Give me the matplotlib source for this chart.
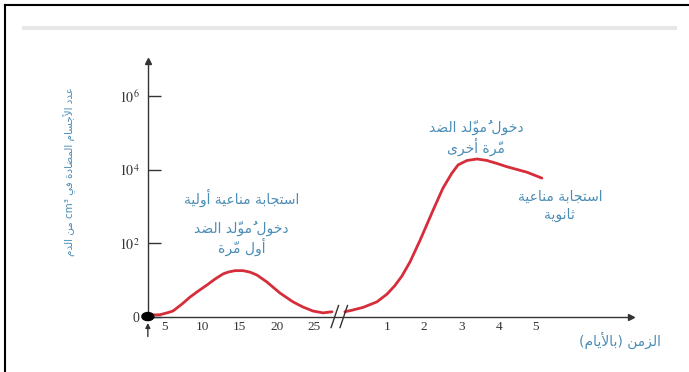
import unicodedata

import matplotlib
matplotlib.use("Agg")
import matplotlib.pyplot as plt
from matplotlib.lines import Line2D
from matplotlib.patches import Ellipse

plt.rcParams["font.family"] = ["DejaVu Sans"]
plt.rcParams["mathtext.fontset"] = "stix"

# primary response: days after first exposure, log10(antibodies per cm3)
primary_days = [2.7, 3.0, 4.33, 5.27, 6.07, 7.28, 8.36, 9.43, 10.64, 11.71, 12.79, 13.46,
                14.40, 15.47, 16.41, 17.35, 18.69, 20.44, 22.18, 23.52, 24.87, 26.21, 27.42]
primary_level = [0.0, 0.04, 0.05, 0.10, 0.15, 0.34, 0.53, 0.69, 0.86, 1.02, 1.16, 1.21,
                 1.25, 1.25, 1.21, 1.13, 0.94, 0.64, 0.40, 0.26, 0.15, 0.10, 0.13]

# secondary response: days after second exposure
secondary_days = [-0.13, 0.09, 0.36, 0.73, 1.00, 1.21, 1.40, 1.62, 1.89, 2.24, 2.50, 2.74,
                  2.91, 3.15, 3.42, 3.68, 3.95, 4.22, 4.76, 5.16]
secondary_level = [0.13, 0.18, 0.25, 0.40, 0.61, 0.84, 1.10, 1.49, 2.08, 2.90, 3.49, 3.90,
                   4.13, 4.25, 4.29, 4.25, 4.17, 4.08, 3.93, 3.77]

first_ticks = [5, 10, 15, 20, 25]
second_ticks = [1, 2, 3, 4, 5]
y_ticks = [0, 2, 4, 6]
y_tick_labels = ["0", "$10^2$", "$10^4$", "$10^6$"]

DAYS_PER_UNIT = 5      # first segment: 5 days per unit
SECOND_OFFSET = 5.96   # second segment starts here, 1 day per unit
AXIS_X = 0.54
BREAK_X = [5.56, 5.80]

TXT = "#4a8db5"
RED = "#d62d3a"
AX = "#333333"

# ---- minimal arabic shaping (matplotlib has no text shaping) ----
DUAL = {"ب": 0xFE8F, "ت": 0xFE95, "ث": 0xFE99, "ج": 0xFE9D, "ح": 0xFEA1, "خ": 0xFEA5,
        "س": 0xFEB1, "ش": 0xFEB5, "ص": 0xFEB9, "ض": 0xFEBD, "ط": 0xFEC1, "ظ": 0xFEC5,
        "ع": 0xFEC9, "غ": 0xFECD, "ف": 0xFED1, "ق": 0xFED5, "ك": 0xFED9, "ل": 0xFEDD,
        "م": 0xFEE1, "ن": 0xFEE5, "ه": 0xFEE9, "ي": 0xFEF1, "ئ": 0xFE89}
RIGHT = {"آ": 0xFE81, "أ": 0xFE83, "ؤ": 0xFE85, "إ": 0xFE87, "ا": 0xFE8D, "ة": 0xFE93,
         "د": 0xFEA9, "ذ": 0xFEAB, "ر": 0xFEAD, "ز": 0xFEAF, "و": 0xFEED, "ى": 0xFEEF}
LAM_ALEF = {"آ": 0xFEF5, "أ": 0xFEF7, "إ": 0xFEF9, "ا": 0xFEFB}


def ar(text):
    clusters = []
    for ch in text:
        if unicodedata.category(ch) == "Mn" and clusters:
            clusters[-1][1].append(ch)
        else:
            clusters.append([ch, []])
    merged = []
    i = 0
    while i < len(clusters):
        b, m = clusters[i]
        if b == "ل" and i + 1 < len(clusters) and clusters[i + 1][0] in LAM_ALEF:
            merged.append(["LA" + clusters[i + 1][0], m + clusters[i + 1][1]])
            i += 2
        else:
            merged.append([b, m])
            i += 1

    def joining(b):
        return b in DUAL or b in RIGHT or b.startswith("LA")

    out = []
    for i, (b, m) in enumerate(merged):
        prev = merged[i - 1][0] if i > 0 else ""
        nxt = merged[i + 1][0] if i + 1 < len(merged) else ""
        p = joining(b) and prev in DUAL
        n = b in DUAL and joining(nxt)
        if b.startswith("LA"):
            g = chr(LAM_ALEF[b[2]] + (1 if p else 0))
        elif b in DUAL:
            g = chr(DUAL[b] + (3 if p and n else 1 if p else 2 if n else 0))
        elif b in RIGHT:
            g = chr(RIGHT[b] + (1 if p else 0))
        else:
            g = {"(": ")", ")": "("}.get(b, b)
        out.append(g + "".join(m))
    out.reverse()
    # put left-to-right runs back in order
    res, run = [], []
    for g in out:
        if g[0].isalnum() and ord(g[0]) < 0x590:
            run.append(g)
        else:
            res.extend(reversed(run))
            run = []
            res.append(g)
    res.extend(reversed(run))
    return "".join(res)


def first_pos(d):
    return [v / DAYS_PER_UNIT for v in d]


def second_pos(d):
    return [SECOND_OFFSET + v for v in d]


fig = plt.figure(figsize=(6.89, 3.72), dpi=100)
ax = fig.add_axes([0, 0, 1, 1])
ax.set_xlim(-3.43, 15.07)
ax.set_ylim(-1.51, 8.62)

for s in ["top", "right"]:
    ax.spines[s].set_visible(False)
ax.spines["left"].set_position(("data", AXIS_X))
ax.spines["left"].set_bounds(0, 6.95)
ax.spines["bottom"].set_position(("data", 0))
ax.spines["bottom"].set_bounds(AXIS_X, 13.5)
for s in ["left", "bottom"]:
    ax.spines[s].set_color(AX)
    ax.spines[s].set_linewidth(1.0)
ax.plot([AXIS_X], [6.95], marker="^", ms=5, color=AX, clip_on=False)
ax.plot([13.5], [0], marker=">", ms=5, color=AX, clip_on=False)

ax.set_yticks(y_ticks, y_tick_labels)
ax.tick_params(axis="y", direction="in", length=9, width=1, color=AX, pad=6,
               labelsize=10, labelcolor=AX)
ax.set_xticks(first_pos(first_ticks) + second_pos(second_ticks),
              [str(t) for t in first_ticks + second_ticks])
ax.tick_params(axis="x", length=0, pad=3, labelsize=9.5, labelcolor=AX)
for lab in ax.get_xticklabels() + ax.get_yticklabels():
    lab.set_family("Liberation Serif")

# curves
ax.plot(first_pos(primary_days), primary_level, color=RED, lw=2, solid_capstyle="round",
        solid_joinstyle="round")
ax.plot(second_pos(secondary_days), secondary_level, color=RED, lw=2, solid_capstyle="round",
        solid_joinstyle="round")

# axis break
for bx in BREAK_X:
    ax.plot([bx - 0.1, bx + 0.1], [-0.3, 0.3], color=AX, lw=1)

# origin marker and antigen arrow
ax.add_patch(Ellipse((AXIS_X, 0), 0.32, 0.22, color="black", zorder=5))
ax.annotate("", xy=(AXIS_X, -0.1), xytext=(AXIS_X, -0.62),
            arrowprops=dict(arrowstyle="-|>", color=AX, lw=1, mutation_scale=7))

# labels
kw = dict(color=TXT, fontsize=10, ha="center", va="center")
ax.text(3.05, 3.23, ar("استجابة مناعية أولية"), **kw)
ax.text(3.05, 2.41, ar("دخول مُولّد الضد"), **kw)
ax.text(3.05, 1.90, ar("أول مرّة"), **kw)
ax.text(9.35, 5.14, ar("دخول مُولّد الضد"), **kw)
ax.text(9.35, 4.62, ar("مرّة أخرى"), **kw)
ax.text(11.6, 3.26, ar("استجابة مناعية"), **kw)
ax.text(11.6, 2.77, ar("ثانوية"), **kw)
ax.text(13.21, -0.64, ar("الزمن (بالأيام)"), **kw)
ax.text(-1.55, 3.96, ar("عدد الأجسام المضادة في cm³ من الدم"), color=TXT, fontsize=7.5,
        ha="center", va="center", rotation=90)

# page frame and header rule
fig.add_artist(Line2D([5 / 689, 5 / 689], [0, 1 - 5 / 372], color="black", lw=1.5))
fig.add_artist(Line2D([5 / 689, 1], [1 - 5 / 372, 1 - 5 / 372], color="black", lw=1.5))
fig.add_artist(Line2D([24 / 689, 675 / 689], [1 - 28 / 372, 1 - 28 / 372], color="#e8e8e8", lw=3))

fig.savefig("out.png", dpi=100)
